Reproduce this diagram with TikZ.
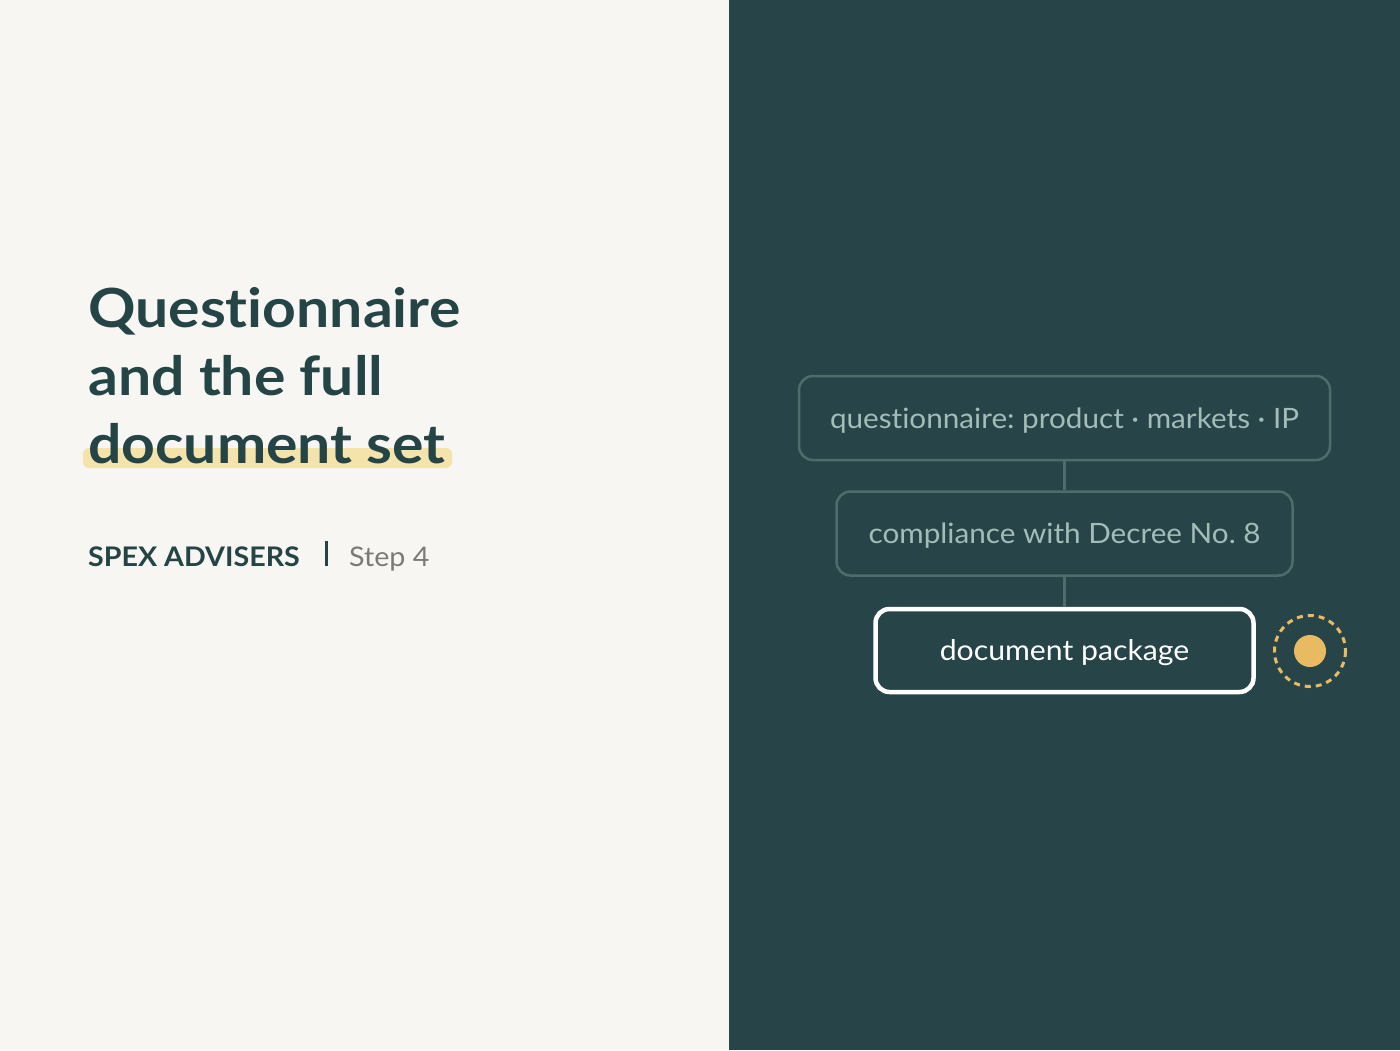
\documentclass[tikz,border=0pt]{standalone}
\usepackage{fontspec}
\setmainfont{Lato}[FakeStretch=1.06, Ligatures=NoCommon]
\newfontfamily\titlefont{Lato}[FakeStretch=1.09, Ligatures=NoCommon]
\usetikzlibrary{positioning}
\definecolor{paper}{HTML}{F8F6F2}
\definecolor{panel}{HTML}{274548}
\definecolor{ink}{HTML}{244446}
\definecolor{mute}{HTML}{7A7A76}
\definecolor{edge}{HTML}{4D6C6A}
\definecolor{soft}{HTML}{A3BCB7}
\definecolor{hilite}{HTML}{F5E3AC}
\definecolor{gold}{HTML}{E8BA62}
\frenchspacing
\begin{document}
\begin{tikzpicture}[x=1pt,y=-1pt]
    \tikzset{stepbox/.style={draw=edge, line width=2.5pt, rounded corners=14pt, fill=panel,
            minimum height=84pt, text height=20pt, text depth=0pt, text=soft, font=\fontsize{28}{30}\selectfont},
        active/.style={stepbox, draw=white, line width=4.5pt, text=white, minimum height=83pt},
        titleline/.style={anchor=base west, text=ink, font=\titlefont\fontsize{54}{68}\selectfont\bfseries, inner sep=0pt},
        link/.style={draw=edge, line width=2.5pt}}
    %Hintergrund
    \useasboundingbox (0,0) rectangle (1400,1050);
    \fill[paper] (0,0) rectangle (729,1050);
    \fill[panel] (729,0) rectangle (1400,1050);

    %Titel
    \fill[hilite, rounded corners=6pt] (83,448) rectangle (452,468);
    \node[titleline] (title1) at (88,327) {Questionnaire};
    \node[titleline] (title2) at (88,395) {and the full};
    \node[titleline] (title3) at (88,463) {document set};

    %Marke
    \node[anchor=base west, text=ink, font=\fontsize{27}{30}\selectfont\bfseries, inner sep=0pt] (brand) at (88,566) {SPEX ADVISERS};
    \fill[ink] (325,541) rectangle (328,566);
    \node[anchor=base west, text=mute, font=\fontsize{27}{30}\selectfont, inner sep=0pt] (step) at (349,566) {Step 4};

    %Kette
    \node[stepbox, minimum width=531pt] (quest) at (1064.5,418) {questionnaire: product · markets · IP};
    \node[stepbox, minimum width=456pt, below=29pt of quest] (decree) {compliance with Decree No.~8};
    \node[active, minimum width=378pt, below=30pt of decree, font=\fontsize{28.5}{30}\selectfont] (pack) {document package};
    \draw[link] (quest) -- (decree);
    \draw[link] (decree) -- (pack);

    %Marker
    \draw[gold, line width=3pt, dash pattern=on 6pt off 5pt] (1310,651) circle (35.5);
    \fill[gold] (1310,651) circle (16);
\end{tikzpicture}
\end{document}
